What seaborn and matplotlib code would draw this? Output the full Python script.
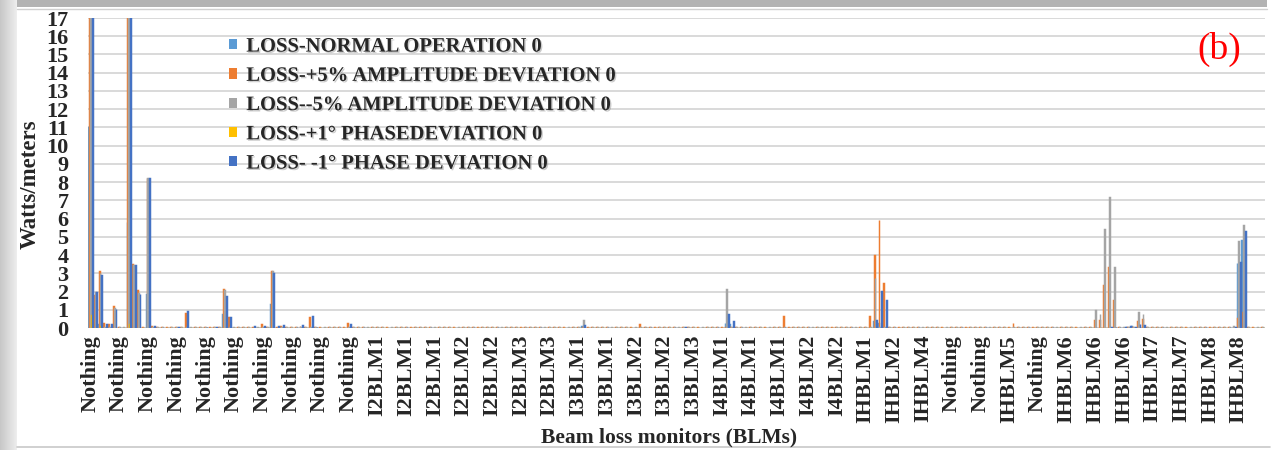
import matplotlib
matplotlib.use("Agg")
import numpy as np
import pandas as pd
import matplotlib.pyplot as plt
import seaborn as sns
from matplotlib import patheffects as pe
from matplotlib.patches import Patch, Rectangle
from matplotlib.lines import Line2D

# ---------------------------------------------------------------- data
SERIES = [
    "LOSS-NORMAL OPERATION 0",
    "LOSS-+5% AMPLITUDE DEVIATION 0",
    "LOSS--5% AMPLITUDE DEVIATION 0",
    "LOSS-+1° PHASEDEVIATION 0",
    "LOSS- -1° PHASE DEVIATION 0",
]
COLORS = ["#5B9BD5", "#ED7D31", "#A5A5A5", "#FFC000", "#4472C4"]

# one label shown for every LABEL_STEP monitors along the beam line
TICK_LABELS = (
    ["Nothing"] * 10
    + ["I2BLM1"] * 3 + ["I2BLM2"] * 2 + ["I2BLM3"] * 2
    + ["I3BLM1"] * 2 + ["I3BLM2"] * 2 + ["I3BLM3"]
    + ["I4BLM1"] * 3 + ["I4BLM2"] * 2
    + ["IHBLM1", "IHBLM2", "IHBLM4", "Nothing", "Nothing", "IHBLM5", "Nothing"]
    + ["IHBLM6"] * 3 + ["IHBLM7"] * 2 + ["IHBLM8"] * 2
)
LABEL_STEP = 6
N_MONITORS = len(TICK_LABELS) * LABEL_STEP

# losses (W/m) at the monitors where they are visible; others sit at the floor value
LOSS_NORMAL = {0: 11.0, 1: 0.15, 2: 0.2, 8: 5.8, 9: 0.8, 12: 1.85, 28: 0.75,
               38: 1.3, 103: 0.1, 133: 0.3, 134: 0.2, 164: 0.4, 165: 0.3,
               217: 0.05, 218: 0.1, 240: 3.55, 241: 4.8}
LOSS_PLUS5_AMP = {0: 17.0, 1: 1.8, 2: 3.1, 3: 0.25, 4: 0.2, 5: 1.2, 8: 17.0,
                  9: 3.5, 10: 2.1, 12: 8.25, 13: 0.1, 20: 0.8, 28: 2.15,
                  29: 0.62, 36: 0.2, 38: 3.15, 40: 0.12, 44: 0.12, 46: 0.62,
                  54: 0.25, 115: 0.2, 145: 0.66, 163: 0.65, 164: 4.0,
                  165: 5.95, 166: 2.45, 192: 0.08, 193: 0.28, 210: 0.45,
                  211: 0.45, 212: 2.36, 213: 3.36, 214: 1.55, 219: 0.38,
                  220: 0.48, 240: 0.56, 241: 0.87}
LOSS_MINUS5_AMP = {0: 17.0, 1: 2.0, 2: 3.0, 5: 1.1, 8: 17.0, 9: 3.45,
                   10: 1.9, 12: 8.2, 28: 2.1, 38: 3.1, 103: 0.45, 133: 2.15,
                   164: 2.75, 210: 1.0, 211: 0.76, 212: 5.42, 213: 7.18,
                   214: 3.36, 219: 0.9, 220: 0.78, 239: 0.12, 240: 4.75,
                   241: 5.64}
LOSS_PLUS1_PHASE = {0: 0.7, 1: 0.1, 2: 0.1, 8: 0.2}
LOSS_MINUS1_PHASE = {0: 17.0, 1: 2.0, 2: 2.9, 3: 0.2, 4: 0.2, 5: 1.05,
                     8: 17.0, 9: 3.45, 10: 1.85, 12: 8.2, 13: 0.1, 18: 0.08,
                     20: 0.93, 24: 0.05, 26: 0.05, 28: 1.77, 29: 0.62,
                     34: 0.1, 36: 0.1, 38: 3.03, 39: 0.1, 40: 0.15, 44: 0.15,
                     46: 0.65, 47: 0.05, 54: 0.2, 103: 0.15, 124: 0.05,
                     133: 0.75, 134: 0.38, 164: 0.45, 165: 2.05, 166: 1.55,
                     213: 0.05, 214: 0.05, 216: 0.06, 217: 0.1, 218: 0.08,
                     219: 0.2, 220: 0.15, 239: 0.05, 240: 3.6, 241: 5.33}
FLOOR = [0.0, 0.05, 0.05, 0.0, 0.0]

Y_MAX = 17

# ---------------------------------------------------------------- table
rows = []
for name, peaks, floor in zip(
        SERIES,
        [LOSS_NORMAL, LOSS_PLUS5_AMP, LOSS_MINUS5_AMP, LOSS_PLUS1_PHASE, LOSS_MINUS1_PHASE],
        FLOOR):
    for m in range(N_MONITORS):
        rows.append((m, name, peaks.get(m, floor)))
df = pd.DataFrame(rows, columns=["monitor", "series", "loss"])

# ---------------------------------------------------------------- figure
sns.set_style("white")
SERIF = ["Liberation Serif", "DejaVu Serif"]
plt.rcParams["font.family"] = SERIF

fig = plt.figure(figsize=(12.81, 4.50), dpi=100)
ax = fig.add_axes([88 / 1281, 1 - 328 / 450, 1177 / 1281, 310 / 450])

sns.barplot(data=df, x="monitor", y="loss", hue="series", hue_order=SERIES,
            order=list(range(N_MONITORS)), palette=COLORS, width=0.9,
            saturation=1, errorbar=None, linewidth=0, ax=ax, legend=False)

# thin bars get an edge in their own colour so they stay visible
for p in ax.patches:
    p.set_edgecolor(p.get_facecolor())
    p.set_linewidth(1.05)

ax.set_xlim(-0.5, N_MONITORS - 0.5)
ax.set_ylim(0, Y_MAX)
ax.set_yticks(range(0, Y_MAX + 1))
ax.set_yticklabels([str(v) for v in range(0, Y_MAX + 1)],
                   fontsize=16, fontweight="bold")
ax.set_xticks(range(0, N_MONITORS, LABEL_STEP))
ax.set_xticklabels(TICK_LABELS, rotation=90, fontsize=16, fontweight="bold")
ax.tick_params(axis="y", length=0, pad=14)
ax.tick_params(axis="x", length=0, pad=5)
ax.set_xlabel("")
ax.set_ylabel("")

ax.yaxis.grid(True, color="#d9d9d9", linewidth=1.4)
ax.xaxis.grid(False)
ax.set_axisbelow(True)
for s in ax.spines.values():
    s.set_visible(False)

# legend
handles = [Patch(facecolor=c, edgecolor="none") for c in COLORS]
leg = ax.legend(handles, SERIES, loc="upper left", bbox_to_anchor=(0.12, 0.94),
                frameon=False, handlelength=0.38, handleheight=0.38,
                handletextpad=0.45, labelspacing=0.45, borderpad=0, borderaxespad=0,
                prop={"family": SERIF, "weight": "bold", "size": 14.8})
for t in leg.get_texts():
    t.set_path_effects([pe.withSimplePatchShadow(offset=(1.0, -1.0),
                                                 shadow_rgbFace="#7f7f7f", alpha=0.4)])

# axis titles and panel tag
fig.text(30 / 1281, 1 - 184 / 450, "Watts/meters", rotation=90, ha="center",
         va="center", fontsize=16.5, fontweight="bold")
fig.text(669 / 1281, 1 - 437 / 450, "Beam loss monitors (BLMs)", ha="center",
         va="center", fontsize=15.5, fontweight="bold")
fig.text(1219 / 1281, 1 - 49 / 450, "(b)", ha="center", va="center",
         fontsize=27, color="#ff0000")

# slide frame around the chart
grad = fig.add_axes([0, 0, 17 / 1281, 1])
grad.imshow(np.linspace(0.78, 0.93, 32)[None, :], cmap="gray", vmin=0, vmax=1,
            aspect="auto", extent=(0, 1, 0, 1))
grad.axis("off")
fig.add_artist(Rectangle((17 / 1281, 1 - 7 / 450), 1250 / 1281, 7 / 450,
                         transform=fig.transFigure, facecolor="#b3b3b3",
                         edgecolor="none"))
fig.add_artist(Line2D([17 / 1281, 1267 / 1281], [1 - 9 / 450, 1 - 9 / 450],
                      transform=fig.transFigure, color="#d0d0d0", linewidth=1))
fig.add_artist(Line2D([17 / 1281, 1270 / 1281], [1 - 447 / 450, 1 - 447 / 450],
                      transform=fig.transFigure, color="#c8c8c8", linewidth=1.2))

fig.savefig("out.png", dpi=100)
